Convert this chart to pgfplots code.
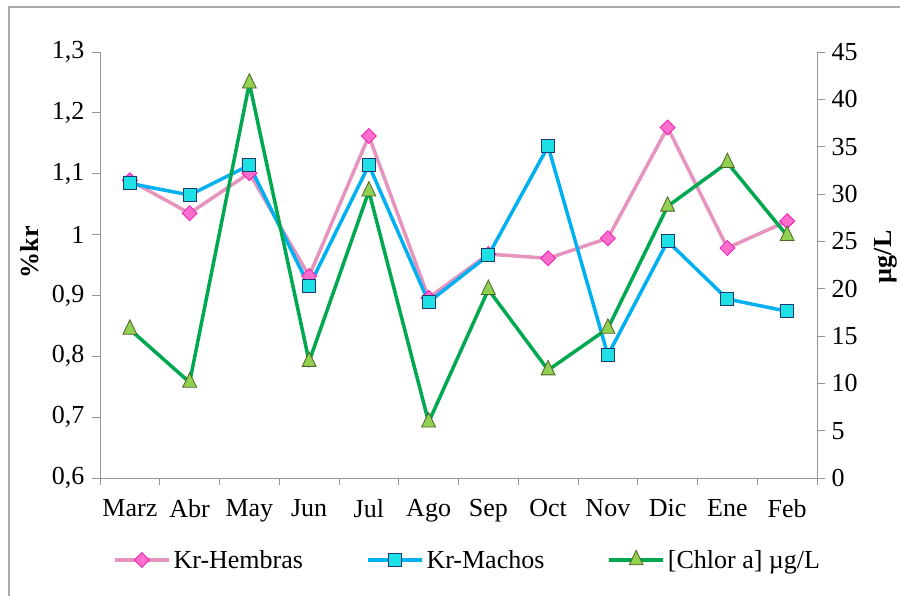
\documentclass[border=0pt]{standalone}
\usepackage{fontspec}
\setmainfont{Liberation Serif}
\usepackage{pgfplots}
\pgfplotsset{compat=1.18}
\definecolor{hembLine}{RGB}{230,148,190}
\definecolor{hembFill}{RGB}{255,110,205}
\definecolor{hembEdge}{RGB}{240,20,180}
\definecolor{machLine}{RGB}{0,176,240}
\definecolor{machFill}{RGB}{30,225,230}
\definecolor{machEdge}{RGB}{31,56,110}
\definecolor{chlLine}{RGB}{0,168,80}
\definecolor{chlFill}{RGB}{146,208,80}
\definecolor{chlEdge}{RGB}{79,98,40}
\definecolor{axgray}{RGB}{150,150,150}
\pgfplotsset{
  hemb/.style={color=hembLine, line width=3.5pt, mark=square*, mark size=5.3pt,
    mark options={rotate=45, fill=hembFill, draw=hembEdge, line width=0.8pt, solid}},
  mach/.style={color=machLine, line width=3.5pt, mark=square*, mark size=6.5pt,
    mark options={fill=machFill, draw=machEdge, line width=1pt, solid}},
  chl/.style={color=chlLine, line width=3.5pt, mark=triangle*, mark size=8pt,
    mark options={yscale=1.2, fill=chlFill, draw=chlEdge, line width=0.8pt, solid}},
  common/.style={
    scale only axis, width=717pt, height=426pt,
    at={(100pt,-478pt)}, anchor=south west,
    xmin=-0.5, xmax=11.5,
    font=\fontsize{26}{30}\selectfont,
    ticklabel style={font=\fontsize{26}{30}\selectfont},
    /pgf/number format/assume math mode=true,
    /pgf/number format/use comma,
    axis line style={axgray, line width=1pt},
    tick style={axgray, line width=1pt},
    tick align=outside,
    major tick length=8pt,
    clip=false,
  },
}
\begin{document}
\begin{tikzpicture}
\useasboundingbox (0pt,0pt) rectangle (900pt,-596pt);
\draw[axgray!80, line width=1.5pt] (9pt,-596pt) -- (9pt,-7pt) -- (900pt,-7pt);
\begin{axis}[common,
  axis x line*=bottom, axis y line*=left,
  ymin=0.6, ymax=1.3, ytick={0.6,0.7,...,1.31},
  yticklabel style={/pgf/number format/fixed, /pgf/number format/precision=1, xshift=-4pt},
  xtick={0,...,11},
  xticklabels={Marz,Abr,May,Jun,Jul,Ago,Sep,Oct,Nov,Dic,Ene,Feb},
  xticklabel style={yshift=-10pt},
  minor xtick={-0.5,0.5,...,11.5},
  minor tick length=7pt,
  xtick style={draw=none},
  minor x tick style={axgray, line width=1pt, draw=axgray},
  ylabel={\textbf{\%kr}},
  ylabel style={at={(axis description cs:-0.0976,0.53)}, anchor=center, font=\fontsize{26}{30}\selectfont},
]
\addplot[hemb] coordinates {(0,1.089) (1,1.035) (2,1.101) (3,0.932) (4,1.162) (5,0.896) (6,0.968) (7,0.961) (8,0.994) (9,1.176) (10,0.978) (11,1.022)};
\addplot[mach] coordinates {(0,1.084) (1,1.065) (2,1.114) (3,0.915) (4,1.114) (5,0.889) (6,0.966) (7,1.145) (8,0.802) (9,0.989) (10,0.894) (11,0.874)};
\end{axis}
\begin{axis}[common,
  axis x line=none, axis y line*=right,
  ymin=0, ymax=45, ytick={0,5,...,45},
  yticklabel style={xshift=3pt},
  ylabel={\textbf{µg/L}},
  ylabel style={at={(axis description cs:1.096,0.519)}, anchor=center, rotate=0, font=\fontsize{26}{30}\selectfont},
  legend columns=3,
  legend style={at={(axis description cs:0.018,-0.1925)}, anchor=west, draw=none, fill=none,
    inner sep=0pt, font=\fontsize{26}{30}\selectfont,
    nodes={inner sep=3pt},
    /tikz/every even column/.append style={column sep=60pt}},
  legend cell align=left,
  legend image code/.code={\draw[mark repeat=2, mark phase=2, #1] plot coordinates {(0pt,0pt) (27pt,0pt) (54pt,0pt)};},
]
\addlegendimage{hemb}
\addlegendentry{Kr-Hembras}
\addlegendimage{mach}
\addlegendentry{Kr-Machos}
\addplot[chl] coordinates {(0,15.7) (1,10.1) (2,41.7) (3,12.3) (4,30.3) (5,5.9) (6,19.9) (7,11.4) (8,15.8) (9,28.7) (10,33.3) (11,25.6)};
\addlegendentry{[Chlor a] µg/L}
\end{axis}
\end{tikzpicture}
\end{document}
